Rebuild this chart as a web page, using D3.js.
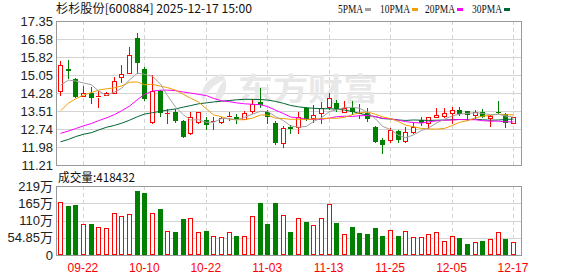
<!DOCTYPE html>
<html>
<head>
<meta charset="utf-8">
<script src="https://cdn.jsdelivr.net/npm/d3@7/dist/d3.min.js"></script>
<style>
  body { margin: 0; background: #fff; }
  svg { display: block; }
</style>
</head>
<body>
<svg id="chart" width="578" height="276"></svg>
<script>
// trading days, 2025-09-17 .. 2025-12-17
var dates = ['09-17','09-18','09-19','09-22','09-23','09-24','09-25','09-26','09-29','09-30',
  '10-09','10-10','10-13','10-14','10-15','10-16','10-17','10-20','10-21','10-22',
  '10-23','10-24','10-27','10-28','10-29','10-30','10-31','11-03','11-04','11-05',
  '11-06','11-07','11-10','11-11','11-12','11-13','11-14','11-17','11-18','11-19',
  '11-20','11-21','11-24','11-25','11-26','11-27','11-28','12-01','12-02','12-03',
  '12-04','12-05','12-08','12-09','12-10','12-11','12-12','12-15','12-16','12-17'];

var opens = [14.38,15.30,14.86,14.14,14.27,14.12,14.21,14.29,14.95,15.15,
  16.61,15.30,13.06,14.38,13.42,13.46,13.08,12.56,13.03,13.13,
  13.03,13.03,13.27,13.24,13.16,13.51,13.91,13.48,13.01,12.13,
  12.82,12.84,13.63,13.20,13.41,13.70,13.87,13.48,13.64,13.38,
  13.44,12.84,12.27,12.28,12.64,12.25,12.63,13.13,12.98,13.24,
  13.30,13.41,13.55,13.51,13.33,13.48,13.20,13.48,13.38,12.99];
var closes = [15.47,15.23,14.12,14.27,14.08,14.16,14.27,14.80,15.09,15.90,
  15.57,14.04,14.36,13.44,13.44,13.10,12.42,13.27,13.46,12.90,
  13.10,13.20,13.31,13.16,13.44,13.81,13.77,13.25,12.13,12.77,
  12.76,13.24,13.16,13.36,13.65,14.05,13.60,13.64,13.46,13.44,
  13.16,12.20,12.06,12.70,12.27,12.60,12.84,13.00,13.24,13.33,
  13.41,13.55,13.38,13.36,13.48,13.27,13.30,13.44,13.01,13.24];
var highs = [15.64,15.69,14.93,14.58,14.55,14.38,14.33,14.95,15.47,16.25,
  16.85,15.40,15.05,14.40,13.60,13.60,13.12,13.48,13.48,13.27,
  13.24,13.27,13.48,13.38,13.53,14.01,14.48,13.57,13.08,12.87,
  12.91,13.48,13.70,13.77,13.88,14.27,13.98,13.94,13.94,13.81,
  13.62,12.88,12.35,12.77,12.70,12.82,13.04,13.27,13.27,13.63,
  13.63,13.67,13.67,13.53,13.55,13.58,13.34,13.95,13.42,13.27];
var lows = [14.19,14.91,14.10,14.14,13.84,13.70,14.20,14.29,14.76,15.15,
  15.15,14.00,13.01,13.30,13.00,13.05,12.40,12.53,13.02,12.73,
  12.73,13.02,13.13,12.99,13.16,13.41,13.68,13.00,12.12,11.98,
  12.56,12.56,13.14,13.05,13.01,13.60,13.53,13.48,13.38,13.20,
  13.10,12.18,11.73,12.20,12.20,12.20,12.57,12.91,12.77,13.24,
  13.24,12.98,13.35,13.15,13.20,13.27,12.87,13.41,12.84,12.99];

// volume, in 万
var volumes = [169,155,159,98,98,88,85,135,123,130,
  203,197,132,146,75,73,114,117,72,76,
  62,56,73,60,62,123,165,98,165,126,
  73,117,105,95,117,161,102,66,88,70,
  67,86,60,78,60,75,56,56,66,72,
  44,62,54,35,41,44,50,72,50,41.84];

var ma5 = [14.61,14.83,14.79,14.71,14.63,14.37,14.18,14.32,14.48,14.84,
  15.13,15.08,14.99,14.66,14.17,13.68,13.35,13.13,13.14,13.03,
  13.03,13.19,13.19,13.13,13.24,13.38,13.50,13.49,13.28,13.10,
  12.88,12.82,12.86,13.06,13.23,13.49,13.56,13.66,13.67,13.63,
  13.46,13.18,12.86,12.72,12.48,12.37,12.49,12.68,12.79,13.00,
  13.16,13.31,13.38,13.41,13.44,13.41,13.36,13.37,13.30,13.25];
var ma10 = [13.52,13.85,14.03,14.19,14.30,14.40,14.46,14.50,14.58,14.74,
  14.75,14.63,14.65,14.57,14.51,14.40,14.22,14.06,13.90,13.60,
  13.35,13.27,13.16,13.14,13.14,13.21,13.34,13.34,13.21,13.19,
  13.16,13.16,13.15,13.17,13.19,13.21,13.20,13.24,13.36,13.43,
  13.47,13.37,13.26,13.19,13.06,12.91,12.84,12.77,12.75,12.74,
  12.77,12.90,13.03,13.10,13.22,13.29,13.33,13.38,13.35,13.35];
var ma20 = [12.56,12.66,12.76,12.88,12.98,13.10,13.22,13.36,13.52,13.72,
  14.00,14.22,14.36,14.40,14.40,14.38,14.32,14.28,14.22,14.17,
  14.05,13.95,13.91,13.86,13.82,13.80,13.78,13.70,13.55,13.40,
  13.26,13.22,13.16,13.15,13.16,13.21,13.27,13.29,13.28,13.31,
  13.32,13.27,13.20,13.18,13.12,13.06,13.02,13.00,13.05,13.09,
  13.12,13.13,13.15,13.14,13.14,13.10,13.08,13.08,13.05,13.05];
var ma30 = [12.20,12.30,12.42,12.52,12.59,12.70,12.82,12.90,12.99,13.12,
  13.27,13.38,13.44,13.50,13.55,13.60,13.68,13.74,13.82,13.86,
  13.90,13.93,13.96,13.99,14.01,14.01,14.00,13.98,13.92,13.84,
  13.75,13.69,13.65,13.63,13.61,13.61,13.59,13.55,13.49,13.41,
  13.33,13.27,13.19,13.17,13.13,13.11,13.13,13.12,13.11,13.12,
  13.13,13.14,13.15,13.15,13.16,13.14,13.12,13.13,13.15,13.17];

var priceTicks = [11.21,11.98,12.74,13.51,14.28,15.05,15.82,16.58,17.35];
var volTicks = [0,54.85,109.7,164.55,219.4];
var volTickLabels = ['0','54.85万','110万','165万','219万'];
var dateTicks = ['09-22','10-10','10-22','11-03','11-13','11-25','12-05','12-17'];
var maNames = ['5PMA','10PMA','20PMA','30PMA'];

var RED = '#ff0000', GREEN = '#008000';
var maColors = ['#a0a0a0','#f0a000','#ff00ff','#006633'];

var svg = d3.select('#chart');
var left = 56, right = 522;
var pTop = 21, pBot = 165, vTop = 186, vBot = 255;

var x = d3.scaleBand().domain(dates).range([left, left + 7.68 * dates.length]).padding(0);
var yp = d3.scaleLinear().domain([priceTicks[0], priceTicks[priceTicks.length - 1]]).range([pBot, pTop]);
var yv = d3.scaleLinear().domain([0, volTicks[volTicks.length - 1]]).range([vBot, vTop]);

function cx(d) { return Math.round(x(d) + x.bandwidth() / 2); }

// grid
var grid = svg.append('g');
grid.selectAll('.hp').data(priceTicks).enter().append('line')
  .attr('x1', left).attr('x2', right)
  .attr('y1', function(d) { return Math.round(yp(d)) + 0.5; })
  .attr('y2', function(d) { return Math.round(yp(d)) + 0.5; })
  .attr('stroke', '#d3d3d3');
grid.selectAll('.hv').data(volTicks).enter().append('line')
  .attr('x1', left).attr('x2', right)
  .attr('y1', function(d) { return Math.round(yv(d)) + 0.5; })
  .attr('y2', function(d) { return Math.round(yv(d)) + 0.5; })
  .attr('stroke', '#d3d3d3');
[[pTop, pBot], [vTop, vBot]].forEach(function(p) {
  grid.selectAll(null).data(dateTicks).enter().append('line')
    .attr('x1', function(d) { return cx(d) + 0.5; })
    .attr('x2', function(d) { return cx(d) + 0.5; })
    .attr('y1', p[0]).attr('y2', p[1])
    .attr('stroke', '#d3d3d3').attr('stroke-dasharray', '4,3');
});

// watermark
var wm = svg.append('g').attr('fill', '#e8e8e8');
wm.append('path')
  .attr('d', 'M222,74 C206,78 198,92 204,102 C206,92 214,84 224,80 C218,88 214,96 216,104 C226,96 230,84 222,74 Z');
wm.append('text').attr('x', 238).attr('y', 100)
  .attr('font-family', 'Noto Sans CJK SC').attr('font-weight', 'bold').attr('font-size', 31)
  .attr('textLength', 140).attr('lengthAdjust', 'spacingAndGlyphs')
  .text('东方财富');

// panel borders
svg.append('rect').attr('x', left + 0.5).attr('y', pTop + 0.5)
  .attr('width', right - left - 1).attr('height', pBot - pTop)
  .attr('fill', 'none').attr('stroke', '#999');
svg.append('rect').attr('x', left + 0.5).attr('y', vTop + 0.5)
  .attr('width', right - left - 1).attr('height', vBot - vTop)
  .attr('fill', 'none').attr('stroke', '#999');

// candles
var candles = svg.append('g').selectAll('g').data(dates).enter().append('g');
candles.each(function(d, i) {
  var g = d3.select(this);
  var c = cx(d);
  var up = closes[i] >= opens[i];
  var top = Math.round(yp(Math.max(opens[i], closes[i])));
  var bot = Math.round(yp(Math.min(opens[i], closes[i])));
  var hi = Math.round(yp(highs[i])), lo = Math.round(yp(lows[i]));
  var col = up ? RED : GREEN;
  if (up) {
    if (hi < top) g.append('line').attr('x1', c + 0.5).attr('x2', c + 0.5).attr('y1', hi).attr('y2', top).attr('stroke', col);
    if (lo > bot) g.append('line').attr('x1', c + 0.5).attr('x2', c + 0.5).attr('y1', bot + 1).attr('y2', lo + 1).attr('stroke', col);
    if (bot - top >= 2) {
      g.append('rect').attr('x', c - 1.5).attr('y', top + 0.5).attr('width', 4).attr('height', bot - top)
        .attr('fill', '#fff').attr('stroke', col);
    } else {
      g.append('line').attr('x1', c - 2).attr('x2', c + 3).attr('y1', top + 0.5).attr('y2', top + 0.5).attr('stroke', col);
    }
  } else {
    g.append('line').attr('x1', c + 0.5).attr('x2', c + 0.5).attr('y1', hi).attr('y2', lo + 1).attr('stroke', col);
    g.append('rect').attr('x', c - 2).attr('y', top).attr('width', 5).attr('height', Math.max(bot - top, 1))
      .attr('fill', col);
  }
});

// moving averages
var maSeries = [ma5, ma10, ma20, ma30];
var line = d3.line()
  .x(function(d, i) { return cx(dates[i]) + 0.5; })
  .y(function(d) { return yp(d); });
maSeries.slice().reverse().forEach(function(s, k) {
  svg.append('path').datum(s).attr('d', line)
    .attr('fill', 'none').attr('stroke', maColors[3 - k]).attr('stroke-width', 1);
});

// volume bars
svg.append('g').selectAll('g').data(dates).enter().append('g').each(function(d, i) {
  var g = d3.select(this);
  var c = cx(d);
  var up = i === 0 ? closes[i] >= opens[i] : closes[i] >= closes[i - 1];
  var top = Math.round(yv(volumes[i]));
  if (up) {
    g.append('rect').attr('x', c - 1.5).attr('y', top + 0.5).attr('width', 4).attr('height', vBot - top - 1)
      .attr('fill', '#fff').attr('stroke', RED);
  } else {
    g.append('rect').attr('x', c - 2).attr('y', top).attr('width', 5).attr('height', vBot - top)
      .attr('fill', GREEN);
  }
});

// axes
var pAxis = svg.append('g').attr('transform', 'translate(' + (left - 3) + ',0)')
  .call(d3.axisLeft(yp).tickValues(priceTicks).tickSize(0).tickPadding(0)
    .tickFormat(function(d) { return d.toFixed(2); }));
var vAxis = svg.append('g').attr('transform', 'translate(' + (left - 3) + ',0)')
  .call(d3.axisLeft(yv).tickValues(volTicks).tickSize(0).tickPadding(0)
    .tickFormat(function(d, i) { return volTickLabels[i]; }));
[pAxis, vAxis].forEach(function(a) {
  a.select('.domain').remove();
  a.selectAll('text').attr('font-family', 'Liberation Sans, Arial, sans-serif')
    .attr('font-size', 13).attr('fill', '#222');
});
vAxis.selectAll('text').attr('font-family', 'Liberation Sans, Noto Sans CJK SC, sans-serif');

var xAxis = svg.append('g').attr('transform', 'translate(0,' + vBot + ')')
  .call(d3.axisBottom(x).tickValues(dateTicks).tickSize(0).tickPadding(8));
xAxis.select('.domain').remove();
xAxis.selectAll('text').attr('font-family', 'Liberation Sans, Arial, sans-serif')
  .attr('font-size', 12).attr('fill', RED);

// title and legend
svg.append('text').attr('x', 56).attr('y', 13)
  .attr('font-family', 'Noto Sans CJK SC').attr('font-size', 12).attr('fill', '#111')
  .attr('textLength', 196).attr('lengthAdjust', 'spacingAndGlyphs')
  .text('杉杉股份[600884] 2025-12-17 15:00');

var legX = [338, 380, 425, 472];
var legW = [25, 30, 30, 30];
var leg = svg.append('g').selectAll('g').data(maNames).enter().append('g');
leg.append('text')
  .attr('x', function(d, i) { return legX[i]; }).attr('y', 13)
  .attr('font-family', 'Liberation Serif, serif').attr('font-size', 12).attr('fill', '#111')
  .attr('textLength', function(d, i) { return legW[i]; }).attr('lengthAdjust', 'spacingAndGlyphs')
  .text(function(d) { return d; });
leg.append('rect')
  .attr('x', function(d, i) { return legX[i] + legW[i] + 2; }).attr('y', 8)
  .attr('width', 6).attr('height', 3)
  .attr('fill', function(d, i) { return maColors[i]; });

svg.append('text').attr('x', 58).attr('y', 182)
  .attr('font-family', 'Noto Sans CJK SC').attr('font-size', 12).attr('fill', '#111')
  .attr('textLength', 77).attr('lengthAdjust', 'spacingAndGlyphs')
  .text('成交量:418432');
</script>
</body>
</html>
